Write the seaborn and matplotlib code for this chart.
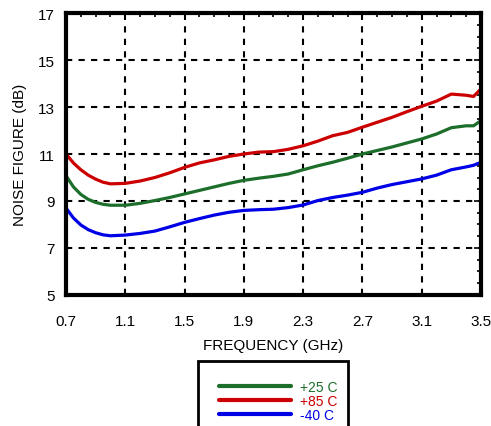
import matplotlib
matplotlib.use("Agg")
import matplotlib.pyplot as plt
import pandas as pd
import seaborn as sns
from matplotlib.patches import Rectangle
from matplotlib.ticker import MultipleLocator

# Частоты, ГГц
freq = [0.7, 0.75, 0.8, 0.85, 0.9, 0.95, 1.0, 1.1, 1.2, 1.3, 1.4, 1.5, 1.6,
        1.7, 1.8, 1.9, 2.0, 2.1, 2.2, 2.3, 2.4, 2.5, 2.6, 2.7, 2.8, 2.9, 3.0,
        3.1, 3.2, 3.3, 3.4, 3.45, 3.5]

# Коэффициент шума, дБ
nf_25 = [10.08, 9.6, 9.28, 9.07, 8.94, 8.86, 8.82, 8.82, 8.9, 9.02, 9.15, 9.3,
         9.45, 9.6, 9.75, 9.88, 9.97, 10.05, 10.15, 10.33, 10.5, 10.65, 10.82,
         11.0, 11.15, 11.3, 11.47, 11.64, 11.85, 12.12, 12.2, 12.2, 12.42]
nf_85 = [11.0, 10.62, 10.33, 10.1, 9.93, 9.8, 9.73, 9.75, 9.85, 10.0, 10.2,
         10.43, 10.62, 10.75, 10.9, 11.0, 11.08, 11.1, 11.2, 11.35, 11.55, 11.78,
         11.92, 12.14, 12.35, 12.56, 12.8, 13.03, 13.25, 13.55, 13.5, 13.45, 13.77]
nf_m40 = [8.7, 8.28, 7.98, 7.78, 7.65, 7.56, 7.52, 7.55, 7.62, 7.72, 7.9, 8.09,
          8.25, 8.4, 8.52, 8.6, 8.63, 8.65, 8.72, 8.83, 9.02, 9.15, 9.25, 9.37,
          9.55, 9.7, 9.82, 9.94, 10.1, 10.33, 10.45, 10.52, 10.65]

labels = ["+25 C", "+85 C", "-40 C"]
colors = ["#1c6e2a", "#cc0000", "#0000e6"]

df = pd.concat([
    pd.DataFrame({"freq": freq, "nf": nf, "temp": lab})
    for nf, lab in zip([nf_25, nf_85, nf_m40], labels)
])

sns.set_style("white")
plt.rcParams["font.family"] = ["Liberation Sans", "DejaVu Sans"]
plt.rcParams["text.color"] = "black"
plt.rcParams["axes.labelcolor"] = "black"

fig = plt.figure(figsize=(4.91, 4.27), dpi=100)
ax = fig.add_axes([0.1344, 0.3068, 0.8452, 0.6604])

sns.lineplot(data=df, x="freq", y="nf", hue="temp", hue_order=labels,
             palette=colors, linewidth=2.3, legend=False, ax=ax)

ax.set_xlim(0.7, 3.5)
ax.set_ylim(5, 17)
ax.set_xticks([0.7, 1.1, 1.5, 1.9, 2.3, 2.7, 3.1, 3.5])
ax.set_xticklabels(["0.7", "1.1", "1.5", "1.9", "2.3", "2.7", "3.1", "3.5"])
ax.set_yticks([5, 7, 9, 11, 13, 15, 17])
ax.xaxis.set_minor_locator(MultipleLocator(0.1))
ax.yaxis.set_minor_locator(MultipleLocator(0.5))

ax.grid(True, which="major", color="black", linestyle=(0, (3, 3)), linewidth=1.5)
ax.tick_params(which="both", direction="in", top=True, right=True, colors="black",
               labelsize=11)
ax.tick_params(axis="x", which="major", pad=14)
ax.tick_params(axis="y", which="major", pad=8)
ax.tick_params(which="major", length=5, width=1.2)
ax.tick_params(which="minor", length=3, width=1.2)
for sp in ax.spines.values():
    sp.set_color("black")
    sp.set_linewidth(3)

ax.set_xlabel("FREQUENCY (GHz)", fontsize=11, labelpad=7)
ax.set_ylabel("NOISE FIGURE (dB)", fontsize=11, labelpad=8)

# Рамка легенды уходит за нижний край
fig.add_artist(Rectangle((198 / 491, -0.05), 150 / 491, 0.05 + 1 - 362 / 427,
                         transform=fig.transFigure, fill=False,
                         edgecolor="black", linewidth=2))
handles = [plt.Line2D([], [], color=c, linewidth=3) for c in colors]
leg = fig.legend(handles, labels, loc="upper left",
                 bbox_to_anchor=(212 / 491, 1 - 374 / 427), frameon=False,
                 fontsize=10, handlelength=5.2, handletextpad=0.6,
                 labelspacing=0.0, borderpad=0)
for t, c in zip(leg.get_texts(), colors):
    t.set_color(c)

fig.savefig("out.png", dpi=100)
